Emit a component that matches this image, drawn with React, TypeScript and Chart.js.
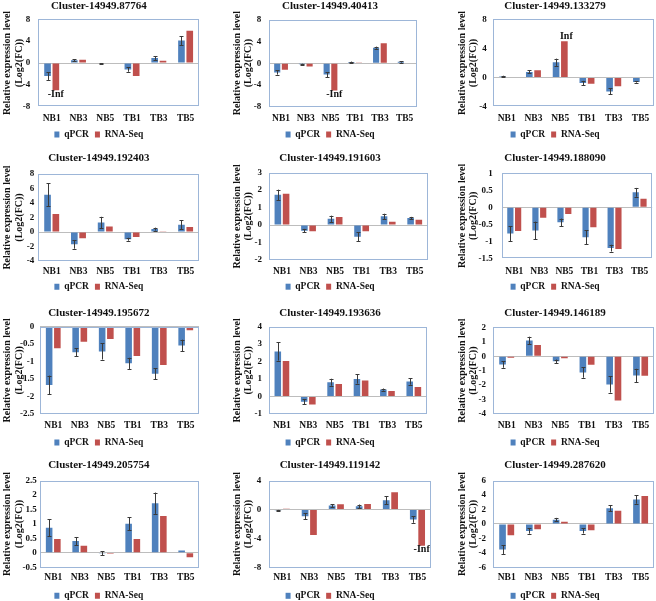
import React, { useEffect, useRef } from 'react';
import { Chart, registerables } from 'chart.js';
Chart.register(...registerables);

// ---------------- data ----------------
const CATEGORIES = ['NB1', 'NB3', 'NB5', 'TB1', 'TB3', 'TB5'];
const SERIES_NAMES = ['qPCR', 'RNA-Seq'];
const TITLES = [
  'Cluster-14949.87764', 'Cluster-14949.40413', 'Cluster-14949.133279',
  'Cluster-14949.192403', 'Cluster-14949.191603', 'Cluster-14949.188090',
  'Cluster-14949.195672', 'Cluster-14949.193636', 'Cluster-14949.146189',
  'Cluster-14949.205754', 'Cluster-14949.119142', 'Cluster-14949.287620',
];

const QPCR_87764 = [-2.4, 0.5, -0.1, -1.2, 0.9, 4.1];
const RNASEQ_87764 = [-5, 0.6, -0.1, -2.4, 0.43, 5.9];
const ERR_87764 = [0.7, 0.15, 0.05, 0.4, 0.35, 0.8];

const QPCR_40413 = [-1.7, -0.2, -2.1, 0.2, 2.85, 0.25];
const RNASEQ_40413 = [-1.2, -0.6, -5, 0.15, 3.65, 0.1];
const ERR_40413 = [0.4, 0.1, 0.45, 0.1, 0.2, 0.15];

const QPCR_133279 = [0.15, 0.78, 2.1, -0.75, -1.9, -0.6];
const RNASEQ_133279 = [0, 1.0, 5.0, -0.85, -1.2, -0.05];
const ERR_133279 = [0.1, 0.2, 0.5, 0.3, 0.4, 0.1];

const QPCR_192403 = [5.15, -1.7, 1.3, -1.0, 0.4, 1.0];
const RNASEQ_192403 = [2.5, -0.85, 0.75, -0.7, 0.1, 0.7];
const ERR_192403 = [1.6, 0.6, 0.8, 0.2, 0.2, 0.6];

const QPCR_191603 = [1.73, -0.32, 0.36, -0.67, 0.5, 0.4];
const RNASEQ_191603 = [1.8, -0.36, 0.46, -0.36, 0.19, 0.3];
const ERR_191603 = [0.3, 0.1, 0.18, 0.26, 0.15, 0.07];

const QPCR_188090 = [-0.77, -0.68, -0.44, -0.88, -1.2, 0.44];
const RNASEQ_188090 = [-0.7, -0.31, -0.2, -0.59, -1.23, 0.25];
const ERR_188090 = [0.22, 0.26, 0.11, 0.21, 0.1, 0.13];

const QPCR_195672 = [-1.67, -0.73, -0.71, -1.05, -1.35, -0.54];
const RNASEQ_195672 = [-0.62, -0.43, -0.35, -0.84, -1.1, -0.1];
const ERR_195672 = [0.27, 0.12, 0.23, 0.16, 0.16, 0.17];

const QPCR_193636 = [2.58, -0.3, 0.82, 1.01, 0.4, 0.86];
const RNASEQ_193636 = [2.03, -0.45, 0.72, 0.92, 0.32, 0.55];
const ERR_193636 = [0.52, 0.15, 0.2, 0.27, 0.06, 0.18];

const QPCR_146189 = [-0.58, 1.08, -0.35, -1.13, -1.95, -1.33];
const RNASEQ_146189 = [-0.1, 0.77, -0.15, -0.6, -3.07, -1.35];
const ERR_146189 = [0.22, 0.27, 0.12, 0.36, 0.57, 0.46];

const QPCR_205754 = [0.87, 0.41, -0.02, 1.01, 1.72, 0.08];
const RNASEQ_205754 = [0.48, 0.25, -0.03, 0.48, 1.28, -0.15];
const ERR_205754 = [0.3, 0.14, 0.07, 0.22, 0.37, 0];

const QPCR_119142 = [-0.1, -0.92, 0.55, 0.45, 1.28, -1.38];
const RNASEQ_119142 = [0.1, -3.53, 0.73, 0.78, 2.39, -5];
const ERR_119142 = [0.05, 0.4, 0.2, 0.25, 0.55, 0.45];

const QPCR_287620 = [-3.55, -0.97, 0.6, -0.97, 2.17, 3.41];
const RNASEQ_287620 = [-1.57, -0.74, 0.3, -0.87, 1.84, 3.87];
const ERR_287620 = [0.6, 0.37, 0.25, 0.35, 0.4, 0.6];

const QPCR = [QPCR_87764, QPCR_40413, QPCR_133279, QPCR_192403, QPCR_191603, QPCR_188090,
  QPCR_195672, QPCR_193636, QPCR_146189, QPCR_205754, QPCR_119142, QPCR_287620];
const RNASEQ = [RNASEQ_87764, RNASEQ_40413, RNASEQ_133279, RNASEQ_192403, RNASEQ_191603, RNASEQ_188090,
  RNASEQ_195672, RNASEQ_193636, RNASEQ_146189, RNASEQ_205754, RNASEQ_119142, RNASEQ_287620];
const ERRS = [ERR_87764, ERR_40413, ERR_133279, ERR_192403, ERR_191603, ERR_188090,
  ERR_195672, ERR_193636, ERR_146189, ERR_205754, ERR_119142, ERR_287620];

// labels placed on the RNA-Seq bars (infinite fold change)
const INF_LABELS = [
  ['-Inf', '', '', '', '', ''],
  ['', '', '-Inf', '', '', ''],
  ['', '', 'Inf', '', '', ''],
  [], [], [], [], [], [], [],
  ['', '', '', '', '', '-Inf'],
  [],
];

// y axis tick ranges
const Y_MIN = [-8, -8, -4, -4, -2, -1.5, -2.5, -1, -4, -0.5, -8, -6];
const Y_MAX = [8, 8, 8, 8, 3, 1, 0, 4, 2, 2.5, 4, 6];
const Y_STEP = [4, 4, 4, 2, 1, 0.5, 0.5, 1, 1, 0.5, 4, 2];

const Y_TITLE = ['Relative expression level', '(Log2(FC))'];

// ---------------- layout / style ----------------
const FONT = "'Times New Roman', 'Liberation Serif', serif";
const TEXT = '#111111';
const BLUE = '#4F81BD';
const RED = '#C0504D';
const FRAME = '#9DB6D8';
const ZERO = '#BDBDBD';
const ERRC = '#3A3A3A';

const TITLE_SIZE = 11;
const X_SIZE = 9.5;
const Y_SIZE = 9;
const YT_SIZE = 10;
const LEG_SIZE = 9.5;
const LEG_PAD = 6;
const BOX_W = 5;
const BOX_H = 6;
const LEG_H = 20;

const COL_CANVAS = [
  { left: -12, width: 224 },
  { left: 214, width: 222 },
  { left: 440, width: 216 },
];
const ROW_TOP = [0, 150, 300, 450];
const ROW_H = [150, 150, 150, 151];
const TITLE_CX = [98.8, 330, 555];
const YTITLE_X = [7.5, 237, 462];
const TITLE_CY = [6, 158.5, 313, 465.5];
const XLABEL_CY = [119, 271.5, 425.5, 578];
const LEGEND_CY = [134.5, 286.7, 442.5, 595.8];
// [left, right, top, bottom] of each plot area in page pixels
const PLOT_BOX = [
  [38.3, 199, 19.3, 106.7], [268.7, 417, 19.7, 106.7], [493.3, 654, 19.3, 106.7],
  [38.3, 199, 174, 261], [268.7, 428, 172.7, 260], [501.7, 654, 173.3, 258.3],
  [40, 199, 326.7, 414], [268.7, 427, 326.7, 414], [493.3, 654, 327.3, 414],
  [40, 199, 480.7, 567.3], [268.7, 431, 480.7, 567.3], [493.3, 654, 480.7, 567.3],
];
const YTICK_PAD = [8, 7.4, 6.6, 4, 6.7, 9, 5.7, 6.7, 7.3, 3.3, 7.4, 7.3];

function Panel({ i }: { i: number }) {
  const ref = useRef<HTMLCanvasElement | null>(null);
  const col = i % 3;
  const row = Math.floor(i / 3);
  const cv = COL_CANVAS[col];
  const top = ROW_TOP[row];
  const h = ROW_H[row];

  useEffect(() => {
    if (!ref.current) return;
    const [pl, pr, pt, pb] = PLOT_BOX[i];
    const lbox = 2 * TITLE_CX[col] - pr;
    const padLeft = lbox - cv.left;
    const padRight = cv.left + cv.width - pr;
    const tLH = TITLE_SIZE * 1.2;
    const titleCY = TITLE_CY[row];
    const itemH = Math.max(LEG_SIZE, BOX_H);
    const legendTop = LEGEND_CY[row] - LEG_PAD - itemH / 2;
    const xH = legendTop - pb;
    const padBottom = top + h - legendTop - LEG_H;
    const ytLH = YT_SIZE * 1.15;
    const errs = ERRS[i];
    const infs = INF_LABELS[i];

    const overlay = {
      id: 'overlay' + i,
      afterDatasetsDraw(chart: any) {
        const ctx = chart.ctx;
        const ys = chart.scales.y;
        const qMeta = chart.getDatasetMeta(0);
        const rMeta = chart.getDatasetMeta(1);
        const qVals = chart.data.datasets[0].data as number[];
        const rVals = chart.data.datasets[1].data as number[];
        ctx.save();
        // error bars on qPCR
        ctx.strokeStyle = ERRC;
        ctx.lineWidth = 1;
        qMeta.data.forEach((el: any, k: number) => {
          const e = errs[k];
          if (!e) return;
          const x = Math.round(el.x) + 0.5;
          const y1 = ys.getPixelForValue(qVals[k] + e);
          const y2 = ys.getPixelForValue(qVals[k] - e);
          ctx.beginPath();
          ctx.moveTo(x, y1);
          ctx.lineTo(x, y2);
          ctx.moveTo(x - 2, Math.round(y1) + 0.5);
          ctx.lineTo(x + 2, Math.round(y1) + 0.5);
          ctx.moveTo(x - 2, Math.round(y2) + 0.5);
          ctx.lineTo(x + 2, Math.round(y2) + 0.5);
          ctx.stroke();
        });
        // Inf labels on RNA-Seq
        ctx.fillStyle = TEXT;
        ctx.font = `bold 10px ${FONT}`;
        ctx.textAlign = 'center';
        rMeta.data.forEach((el: any, k: number) => {
          const lab = infs[k];
          if (!lab) return;
          if (rVals[k] < 0) {
            ctx.textBaseline = 'top';
            ctx.fillText(lab, el.x, el.y - 1);
          } else {
            ctx.textBaseline = 'alphabetic';
            ctx.fillText(lab, el.x + 2, el.y - 2);
          }
        });
        // plot frame
        const a = chart.chartArea;
        ctx.strokeStyle = FRAME;
        ctx.lineWidth = 1;
        ctx.strokeRect(Math.round(a.left) + 0.5, Math.round(a.top) + 0.5,
          Math.round(a.right - a.left) - 1, Math.round(a.bottom - a.top) - 1);
        ctx.restore();
      },
    };

    const chart = new Chart(ref.current, {
      type: 'bar',
      data: {
        labels: CATEGORIES,
        datasets: [
          { label: SERIES_NAMES[0], data: QPCR[i], backgroundColor: BLUE, borderWidth: 0,
            categoryPercentage: 0.62, barPercentage: 0.8 },
          { label: SERIES_NAMES[1], data: RNASEQ[i], backgroundColor: RED, borderWidth: 0,
            categoryPercentage: 0.62, barPercentage: 0.8 },
        ],
      },
      options: {
        responsive: false,
        maintainAspectRatio: false,
        animation: false,
        events: [],
        layout: { padding: { left: padLeft, right: padRight, top: 0, bottom: padBottom } },
        plugins: {
          tooltip: { enabled: false },
          title: {
            display: true,
            text: TITLES[i],
            color: TEXT,
            font: { family: FONT, size: TITLE_SIZE, weight: 'bold', lineHeight: 1.2 },
            padding: { top: titleCY - top - tLH / 2, bottom: pt - titleCY - tLH / 2 },
          },
          legend: {
            display: true,
            position: 'bottom',
            maxHeight: LEG_H,
            labels: {
              color: TEXT,
              font: { family: FONT, size: LEG_SIZE, weight: 'bold' },
              boxWidth: BOX_W,
              boxHeight: BOX_H,
              padding: LEG_PAD,
            },
          },
        },
        scales: {
          x: {
            type: 'category',
            offset: true,
            grid: { display: false, drawTicks: false },
            border: { display: false },
            ticks: {
              color: TEXT,
              font: { family: FONT, size: X_SIZE, weight: 'bold', lineHeight: 1.2 },
              padding: XLABEL_CY[row] - pb - (X_SIZE * 1.2) / 2,
              maxRotation: 0,
              autoSkip: false,
            },
            afterFit: (s: any) => { s.height = xH; },
          },
          y: {
            type: 'linear',
            min: Y_MIN[i],
            max: Y_MAX[i],
            grid: {
              drawTicks: false,
              color: (c: any) => (c.tick && Math.abs(c.tick.value) < 1e-9 ? ZERO : 'rgba(0,0,0,0)'),
              lineWidth: 1,
            },
            border: { display: false },
            ticks: {
              stepSize: Y_STEP[i],
              color: TEXT,
              font: { family: FONT, size: Y_SIZE, weight: 'bold' },
              padding: YTICK_PAD[i],
              callback: (v: any) => String(Math.round(Number(v) * 100) / 100),
            },
            title: {
              display: true,
              text: Y_TITLE,
              color: TEXT,
              font: { family: FONT, size: YT_SIZE, weight: 'bold', lineHeight: 1.15 },
              padding: { top: YTITLE_X[col] - lbox - ytLH / 2, bottom: 0 },
            },
            afterFit: (s: any) => { s.width = pl - lbox; },
          },
        },
      },
      plugins: [overlay],
    } as any);
    return () => chart.destroy();
  }, []);

  return (
    <canvas
      ref={ref}
      width={cv.width}
      height={h}
      style={{ position: 'absolute', left: cv.left, top, width: cv.width, height: h }}
    />
  );
}

export default function App() {
  const idx = Array.from({ length: 12 }, (_, k) => k);
  return (
    <div style={{ position: 'absolute', left: 0, top: 0, width: 656, height: 601, overflow: 'hidden', background: '#ffffff' }}>
      {idx.map((k) => <Panel key={k} i={k} />)}
    </div>
  );
}
